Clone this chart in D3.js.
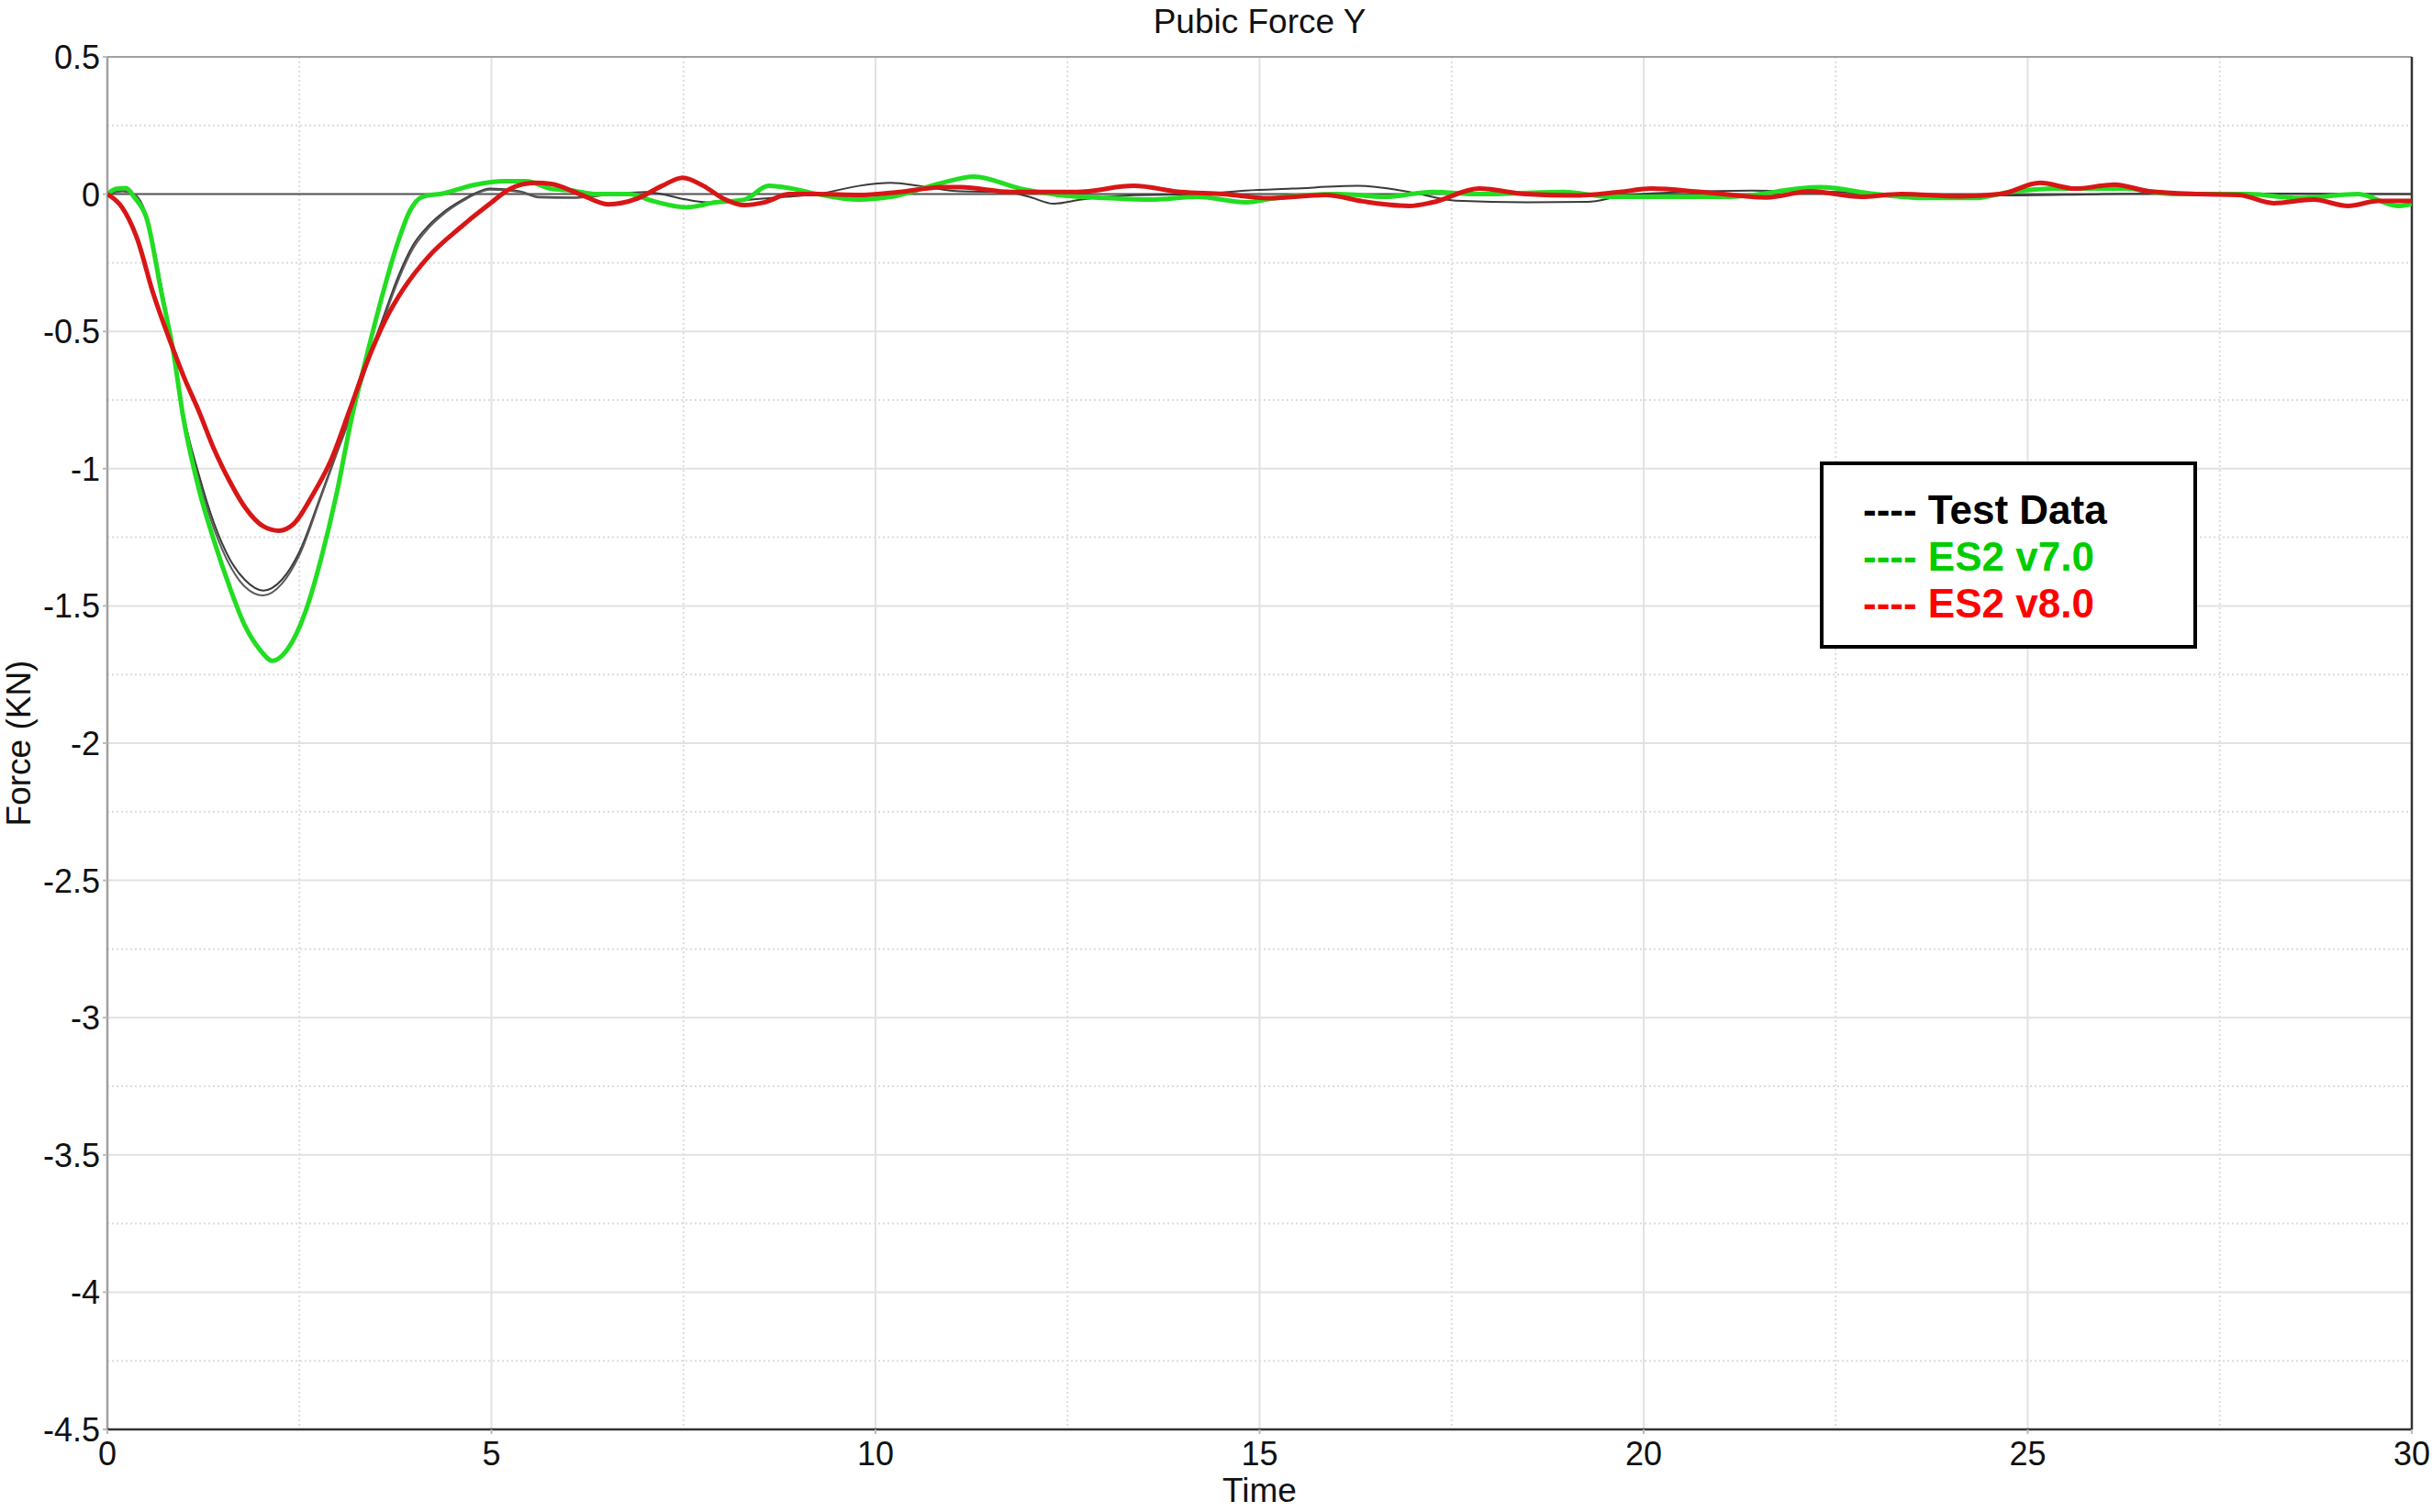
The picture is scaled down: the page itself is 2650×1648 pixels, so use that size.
<!DOCTYPE html>
<html>
<head>
<meta charset="utf-8">
<script src="https://cdn.jsdelivr.net/npm/d3@7"></script>
<style>
  html, body { margin: 0; padding: 0; background: #ffffff; }
  svg { display: block; }
  text { font-family: "Liberation Sans", Arial, Helvetica, sans-serif; }
</style>
</head>
<body>
<svg id="chart" width="2650" height="1648"></svg>
<script>
// ---------------- DATA ----------------
const chartTitle = "Pubic Force Y";
const xAxisTitle = "Time";
const yAxisTitle = "Force (KN)";

const xTicks = [0, 5, 10, 15, 20, 25, 30];
const xTickLabels = ["0", "5", "10", "15", "20", "25", "30"];
const yTicks = [0.5, 0, -0.5, -1, -1.5, -2, -2.5, -3, -3.5, -4, -4.5];
const yTickLabels = ["0.5", "0", "-0.5", "-1", "-1.5", "-2", "-2.5", "-3", "-3.5", "-4", "-4.5"];

const legendLabels = ["---- Test Data", "---- ES2 v7.0", "---- ES2 v8.0"];

// Test Data (two test runs, nearly identical)
const testATime = [0, 0.2, 0.35, 0.5, 0.7, 0.85, 0.99, 1.19, 1.39, 1.59, 1.79, 2.03, 2.27, 2.5, 2.78, 2.98, 3.18, 3.38, 3.58, 3.78, 3.98, 4.18, 4.38, 4.58, 4.78, 4.98, 5.37, 5.61, 6.05, 6.58, 7.01, 7.54, 7.81, 8.18, 8.71, 9.25, 9.78, 10.2, 10.58, 11.11, 11.7, 12.0, 12.32, 12.68, 13.3, 14.2, 14.82, 15.42, 16.28, 16.95, 17.56, 18.47, 19.27, 19.69, 20.1, 21.4, 22.2, 23.35, 24.64, 25.98, 27.2, 28.5, 30];
const testAForce = [0, 0.01, 0.0, -0.07, -0.33, -0.56, -0.8, -1.021, -1.2, -1.328, -1.405, -1.444, -1.405, -1.303, -1.097, -0.944, -0.79, -0.612, -0.458, -0.304, -0.185, -0.115, -0.065, -0.028, 0.002, 0.02, 0.01, -0.01, -0.012, 0, 0.008, -0.02, -0.03, -0.024, -0.012, 0, 0.03, 0.041, 0.03, 0.01, 0.008, -0.01, -0.035, -0.02, -0.005, 0, 0.013, 0.02, 0.03, 0.008, -0.024, -0.03, -0.028, -0.008, 0.003, 0.013, 0.01, 0.0, -0.005, 0, 0.003, 0.002, 0];

const testBTime = [0, 0.2, 0.35, 0.5, 0.7, 0.85, 0.99, 1.19, 1.39, 1.59, 1.79, 2.03, 2.27, 2.5, 2.78, 2.98, 3.18, 3.38, 3.58, 3.78, 3.98, 4.18, 4.38, 4.58, 4.78, 4.98, 5.37, 5.61, 6.05, 6.58];
const testBForce = [0, 0.012, 0.0, -0.075, -0.34, -0.575, -0.815, -1.04, -1.22, -1.35, -1.43, -1.462, -1.42, -1.315, -1.105, -0.95, -0.8, -0.625, -0.47, -0.318, -0.198, -0.124, -0.072, -0.033, -0.002, 0.016, 0.008, -0.012, -0.014, 0];

// ES2 v7.0
const es2v7Time = [0, 0.12, 0.24, 0.36, 0.51, 0.71, 0.85, 0.99, 1.19, 1.39, 1.59, 1.79, 1.99, 2.15, 2.34, 2.58, 2.78, 2.98, 3.18, 3.38, 3.58, 3.78, 3.94, 4.1, 4.38, 4.78, 5.17, 5.45, 5.77, 6.05, 6.37, 6.79, 7.11, 7.54, 7.92, 8.29, 8.61, 8.92, 9.25, 9.78, 10.2, 10.85, 11.28, 11.89, 12.38, 12.99, 13.6, 14.2, 14.82, 15.19, 16.03, 16.64, 17.25, 17.86, 18.96, 19.57, 20.1, 21.08, 22.3, 23.02, 23.67, 24.31, 24.77, 25.41, 26.26, 26.9, 27.87, 28.53, 29.3, 29.82, 30];
const es2v7Force = [0, 0.02, 0.022, -0.015, -0.087, -0.368, -0.56, -0.816, -1.073, -1.264, -1.43, -1.572, -1.661, -1.7, -1.66, -1.52, -1.33, -1.097, -0.816, -0.585, -0.368, -0.177, -0.06, -0.01, 0.003, 0.034, 0.047, 0.047, 0.02, 0.013, 0, 0, -0.026, -0.048, -0.03, -0.02, 0.03, 0.02, 0, -0.02, -0.01, 0.04, 0.064, 0.02, -0.003, -0.014, -0.02, -0.01, -0.03, -0.015, 0, -0.01, 0.008, 0.0, 0.008, -0.01, -0.01, -0.01, 0.025, 0, -0.014, -0.014, 0.008, 0.02, 0.02, 0, 0, -0.014, 0, -0.043, -0.035];

// ES2 v8.0
const es2v8Time = [0, 0.19, 0.39, 0.59, 0.85, 0.99, 1.19, 1.39, 1.59, 1.79, 2.03, 2.23, 2.43, 2.67, 2.91, 3.15, 3.38, 3.62, 3.86, 4.18, 4.58, 4.98, 5.24, 5.57, 5.78, 6.15, 6.52, 6.9, 7.22, 7.49, 7.76, 8.02, 8.29, 8.55, 8.88, 9.25, 9.78, 10.31, 10.85, 11.11, 11.77, 12.62, 13.36, 13.97, 14.52, 15.12, 15.86, 16.34, 16.95, 17.25, 17.86, 18.47, 19.08, 19.69, 20.1, 20.75, 21.6, 22.17, 22.83, 23.35, 24.12, 24.64, 25.16, 25.62, 26.13, 26.58, 27.23, 27.75, 28.2, 28.72, 29.17, 29.56, 30];
const es2v8Force = [0, -0.048, -0.164, -0.356, -0.56, -0.662, -0.79, -0.93, -1.045, -1.14, -1.21, -1.226, -1.2, -1.097, -0.97, -0.79, -0.612, -0.458, -0.343, -0.228, -0.125, -0.035, 0.019, 0.041, 0.037, 0, -0.037, -0.016, 0.03, 0.06, 0.03, -0.016, -0.04, -0.03, 0, 0, -0.003, 0.008, 0.025, 0.025, 0.008, 0.008, 0.03, 0.008, 0, -0.015, -0.003, -0.026, -0.043, -0.03, 0.02, 0, -0.005, 0.008, 0.02, 0.008, -0.012, 0.01, -0.01, 0, -0.008, 0, 0.041, 0.02, 0.035, 0.01, 0, -0.003, -0.033, -0.02, -0.043, -0.025, -0.025];

// ---------------- LAYOUT ----------------
const W = 2650, H = 1648;
const plot = { left: 117, right: 2628, top: 62, bottom: 1558 };

const x = d3.scaleLinear().domain([0, 30]).range([plot.left, plot.right]);
const y = d3.scaleLinear().domain([-4.5, 0.5]).range([plot.bottom, plot.top]);

const svg = d3.select("#chart");

svg.append("defs").append("clipPath").attr("id", "plotclip")
  .append("rect")
  .attr("x", plot.left).attr("y", plot.top)
  .attr("width", plot.right - plot.left).attr("height", plot.bottom - plot.top);

// Grid: minor (dotted) and major (solid)
const grid = svg.append("g");
const yMinor = d3.range(-4.25, 0.5, 0.5);
const xMinor = d3.range(2.5, 30, 5);
grid.selectAll(".yminor").data(yMinor).join("line")
  .attr("x1", plot.left).attr("x2", plot.right)
  .attr("y1", d => y(d)).attr("y2", d => y(d))
  .attr("stroke", "#dcdcdc").attr("stroke-width", 2).attr("stroke-dasharray", "2,3");
grid.selectAll(".xminor").data(xMinor).join("line")
  .attr("y1", plot.top).attr("y2", plot.bottom)
  .attr("x1", d => x(d)).attr("x2", d => x(d))
  .attr("stroke", "#dcdcdc").attr("stroke-width", 2).attr("stroke-dasharray", "2,3");
grid.selectAll(".ymajor").data(yTicks.filter(v => v < 0.5 && v > -4.5)).join("line")
  .attr("x1", plot.left).attr("x2", plot.right)
  .attr("y1", d => y(d)).attr("y2", d => y(d))
  .attr("stroke", "#e2e2e2").attr("stroke-width", 2);
grid.selectAll(".xmajor").data(xTicks.filter(v => v > 0 && v < 30)).join("line")
  .attr("y1", plot.top).attr("y2", plot.bottom)
  .attr("x1", d => x(d)).attr("x2", d => x(d))
  .attr("stroke", "#e2e2e2").attr("stroke-width", 2);

// Frame
svg.append("line").attr("x1", plot.left).attr("x2", plot.right).attr("y1", plot.top).attr("y2", plot.top)
  .attr("stroke", "#a0a0a0").attr("stroke-width", 2);
svg.append("line").attr("x1", plot.left).attr("x2", plot.left).attr("y1", plot.top).attr("y2", plot.bottom)
  .attr("stroke", "#a0a0a0").attr("stroke-width", 2.5);
svg.append("line").attr("x1", plot.left).attr("x2", plot.right).attr("y1", plot.bottom).attr("y2", plot.bottom)
  .attr("stroke", "#333333").attr("stroke-width", 2.5);
svg.append("line").attr("x1", plot.right).attr("x2", plot.right).attr("y1", plot.top).attr("y2", plot.bottom)
  .attr("stroke", "#333333").attr("stroke-width", 2.5);

// Zero reference line
svg.append("line").attr("x1", plot.left).attr("x2", plot.right).attr("y1", y(0)).attr("y2", y(0))
  .attr("stroke", "#555555").attr("stroke-width", 2);

// Ticks
svg.selectAll(".ytick").data(yTicks).join("line")
  .attr("x1", plot.left - 5).attr("x2", plot.left)
  .attr("y1", d => y(d)).attr("y2", d => y(d))
  .attr("stroke", "#bbbbbb").attr("stroke-width", 2);
svg.selectAll(".xtick").data(xTicks).join("line")
  .attr("x1", d => x(d)).attr("x2", d => x(d))
  .attr("y1", plot.bottom).attr("y2", plot.bottom + 5)
  .attr("stroke", "#bbbbbb").attr("stroke-width", 2);

// Tick labels
svg.selectAll(".ylab").data(yTicks).join("text")
  .attr("x", plot.left - 8).attr("y", d => y(d))
  .attr("dy", "0.36em")
  .attr("text-anchor", "end")
  .attr("font-size", 36).attr("fill", "#111")
  .text((d, i) => yTickLabels[i]);
svg.selectAll(".xlab").data(xTicks).join("text")
  .attr("x", d => x(d)).attr("y", 1597)
  .attr("text-anchor", "middle")
  .attr("font-size", 36).attr("fill", "#111")
  .text((d, i) => xTickLabels[i]);

// Titles
svg.append("text").attr("x", (plot.left + plot.right) / 2).attr("y", 36)
  .attr("text-anchor", "middle").attr("font-size", 37).attr("fill", "#111").text(chartTitle);
svg.append("text").attr("x", (plot.left + plot.right) / 2).attr("y", 1637)
  .attr("text-anchor", "middle").attr("font-size", 37).attr("fill", "#111").text(xAxisTitle);
svg.append("text").attr("transform", `translate(33, ${(plot.top + plot.bottom) / 2}) rotate(-90)`)
  .attr("text-anchor", "middle").attr("font-size", 37).attr("fill", "#111").text(yAxisTitle);

// Series
const mk = (t, v) => t.map((tt, i) => ({ t: tt, v: v[i] }));
const line = d3.line().x(d => x(d.t)).y(d => y(d.v)).curve(d3.curveMonotoneX);
const curves = svg.append("g").attr("clip-path", "url(#plotclip)");

curves.append("path").datum(mk(testATime, testAForce))
  .attr("d", line).attr("fill", "none").attr("stroke", "#3a3a3a").attr("stroke-width", 2);
curves.append("path").datum(mk(testBTime, testBForce))
  .attr("d", line).attr("fill", "none").attr("stroke", "#5a5a5a").attr("stroke-width", 2);
curves.append("path").datum(mk(es2v7Time, es2v7Force))
  .attr("d", line).attr("fill", "none").attr("stroke", "#22dd22").attr("stroke-width", 5)
  .attr("stroke-linejoin", "round");
curves.append("path").datum(mk(es2v8Time, es2v8Force))
  .attr("d", line).attr("fill", "none").attr("stroke", "#d81616").attr("stroke-width", 5)
  .attr("stroke-linejoin", "round");

// Legend
const legend = svg.append("g");
legend.append("rect").attr("x", 1985).attr("y", 505).attr("width", 407).attr("height", 200)
  .attr("fill", "#ffffff").attr("stroke", "#000000").attr("stroke-width", 4);
const legendColors = ["#000000", "#00cc00", "#ff0000"];
legend.selectAll(".leg").data(legendLabels).join("text")
  .attr("x", 2030).attr("y", (d, i) => 571 + i * 51)
  .attr("font-size", 44).attr("font-weight", "bold")
  .attr("fill", (d, i) => legendColors[i])
  .text(d => d);
</script>
</body>
</html>
